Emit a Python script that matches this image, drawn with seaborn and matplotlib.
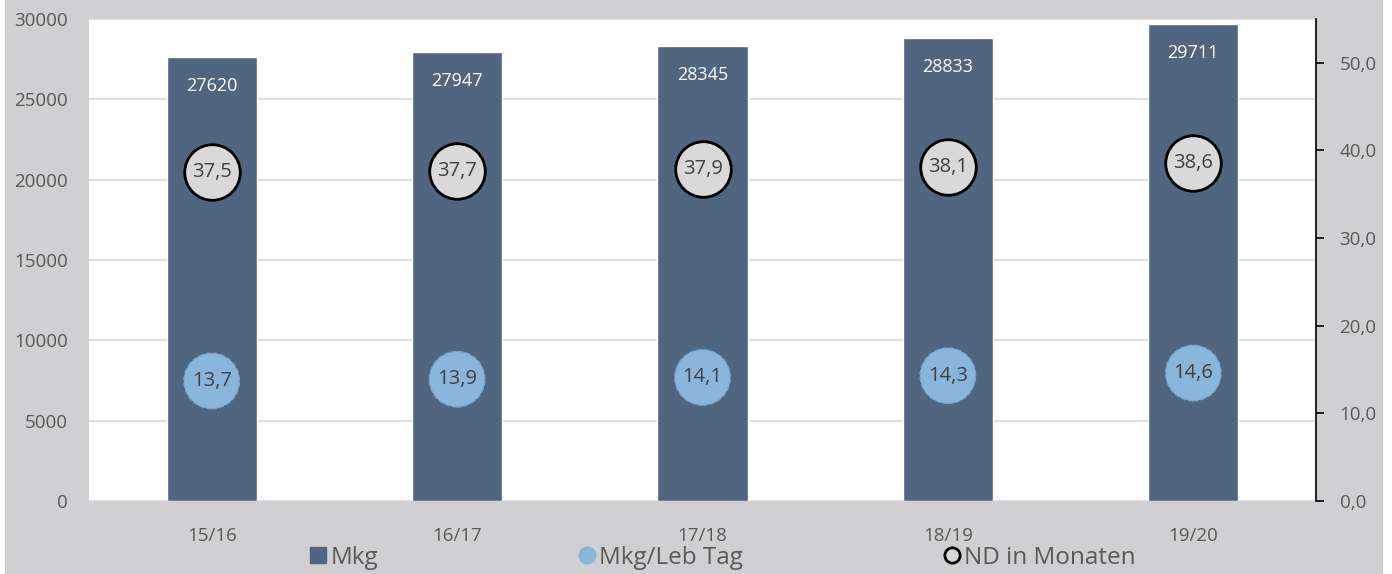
import numpy as np
import pandas as pd
import matplotlib
matplotlib.use("Agg")
import matplotlib.pyplot as plt
from matplotlib.lines import Line2D
from matplotlib.patches import Rectangle
import seaborn as sns

# === Data ===
seasons = ["15/16", "16/17", "17/18", "18/19", "19/20"]
mkg = [27620, 27947, 28345, 28833, 29711]
mkg_leb_tag = [13.7, 13.9, 14.1, 14.3, 14.6]
nd_monate = [37.5, 37.7, 37.9, 38.1, 38.6]

bar_color = "#4f6580"
blue_color = "#8ab6db"
gray_circle = "#d9d9d9"
text_gray = "#595959"
bg_gray = "#d0d0d2"

sns.set_style("white")
plt.rcParams["font.family"] = ["Open Sans", "DejaVu Sans"]

fig = plt.figure(figsize=(13.92, 5.74), dpi=100)
fig.patch.set_facecolor("white")
fig.patches.append(Rectangle((5 / 1392, 0), 1378 / 1392, 1, transform=fig.transFigure,
                             facecolor=bg_gray, edgecolor="none", zorder=-10))

ax = fig.add_axes([89 / 1392, 1 - 501 / 574, 1227 / 1392, 482 / 574])
df = pd.DataFrame({"Saison": seasons, "Mkg": mkg})
sns.barplot(data=df, x="Saison", y="Mkg", color=bar_color, width=0.367,
            saturation=1, ax=ax, zorder=2)
ax.set_xlim(-0.5, 4.5)
ax.set_ylim(0, 30000)
ax.set_yticks(np.arange(0, 30001, 5000))
ax.yaxis.grid(True, color="#d9d9d9", linewidth=1.2, zorder=0)
ax.set_axisbelow(True)
ax.set_xlabel("")
ax.set_ylabel("")
for s in ax.spines.values():
    s.set_visible(False)
ax.tick_params(axis="y", length=0, pad=15, labelsize=13.5, labelcolor=text_gray)
ax.tick_params(axis="x", length=0, pad=19, labelsize=13.5, labelcolor=text_gray)

# value labels inside bars
for i, v in enumerate(mkg):
    ax.annotate(str(v), (i, v), xytext=(0, -29), textcoords="offset pixels",
                ha="center", va="center", color="white", fontsize=13, zorder=5)

ax2 = ax.twinx()
ax2.set_position(ax.get_position())
xs = np.arange(len(seasons))
sns.scatterplot(x=xs, y=mkg_leb_tag, s=1600, color=blue_color, edgecolor="#7aa5cc",
                linewidth=1, linestyle="--", ax=ax2, zorder=4)
sns.scatterplot(x=xs, y=nd_monate, s=1600, color=gray_circle, edgecolor="black",
                linewidth=2, ax=ax2, zorder=4)
ax2.set_ylim(0, 55)
ax2.set_xlim(-0.5, 4.5)
ax2.set_yticks(np.arange(0, 51, 10))
ax2.set_yticklabels([f"{t:.1f}".replace(".", ",") for t in np.arange(0, 51, 10)])
for s in ["top", "left", "bottom"]:
    ax2.spines[s].set_visible(False)
ax2.spines["right"].set_color("black")
ax2.spines["right"].set_linewidth(1.2)
ax2.tick_params(axis="y", direction="out", length=6, width=1.2, color="black",
                pad=11, labelsize=13.5, labelcolor=text_gray, right=True)

for i in range(len(seasons)):
    ax2.text(i, mkg_leb_tag[i], f"{mkg_leb_tag[i]:.1f}".replace(".", ","),
             ha="center", va="center", fontsize=14.5, color="#404040", zorder=6)
    ax2.text(i, nd_monate[i], f"{nd_monate[i]:.1f}".replace(".", ","),
             ha="center", va="center", fontsize=14.5, color="#404040", zorder=6)

handles = [
    Line2D([], [], marker="s", linestyle="none", markersize=12, color=bar_color),
    Line2D([], [], marker="o", linestyle="none", markersize=12, color=blue_color),
    Line2D([], [], marker="o", linestyle="none", markersize=11, markerfacecolor=gray_circle,
           markeredgecolor="black", markeredgewidth=2),
]
fig.legend(handles, ["Mkg", "Mkg/Leb Tag", "ND in Monaten"], loc="center",
           bbox_to_anchor=(722 / 1392, 1 - 558 / 574), ncol=3, frameon=False,
           fontsize=17.5, labelcolor=text_gray, handletextpad=0.1, columnspacing=8.2,
           handlelength=0.8, borderaxespad=0)

fig.savefig("out.png", dpi=100, facecolor=fig.get_facecolor())
